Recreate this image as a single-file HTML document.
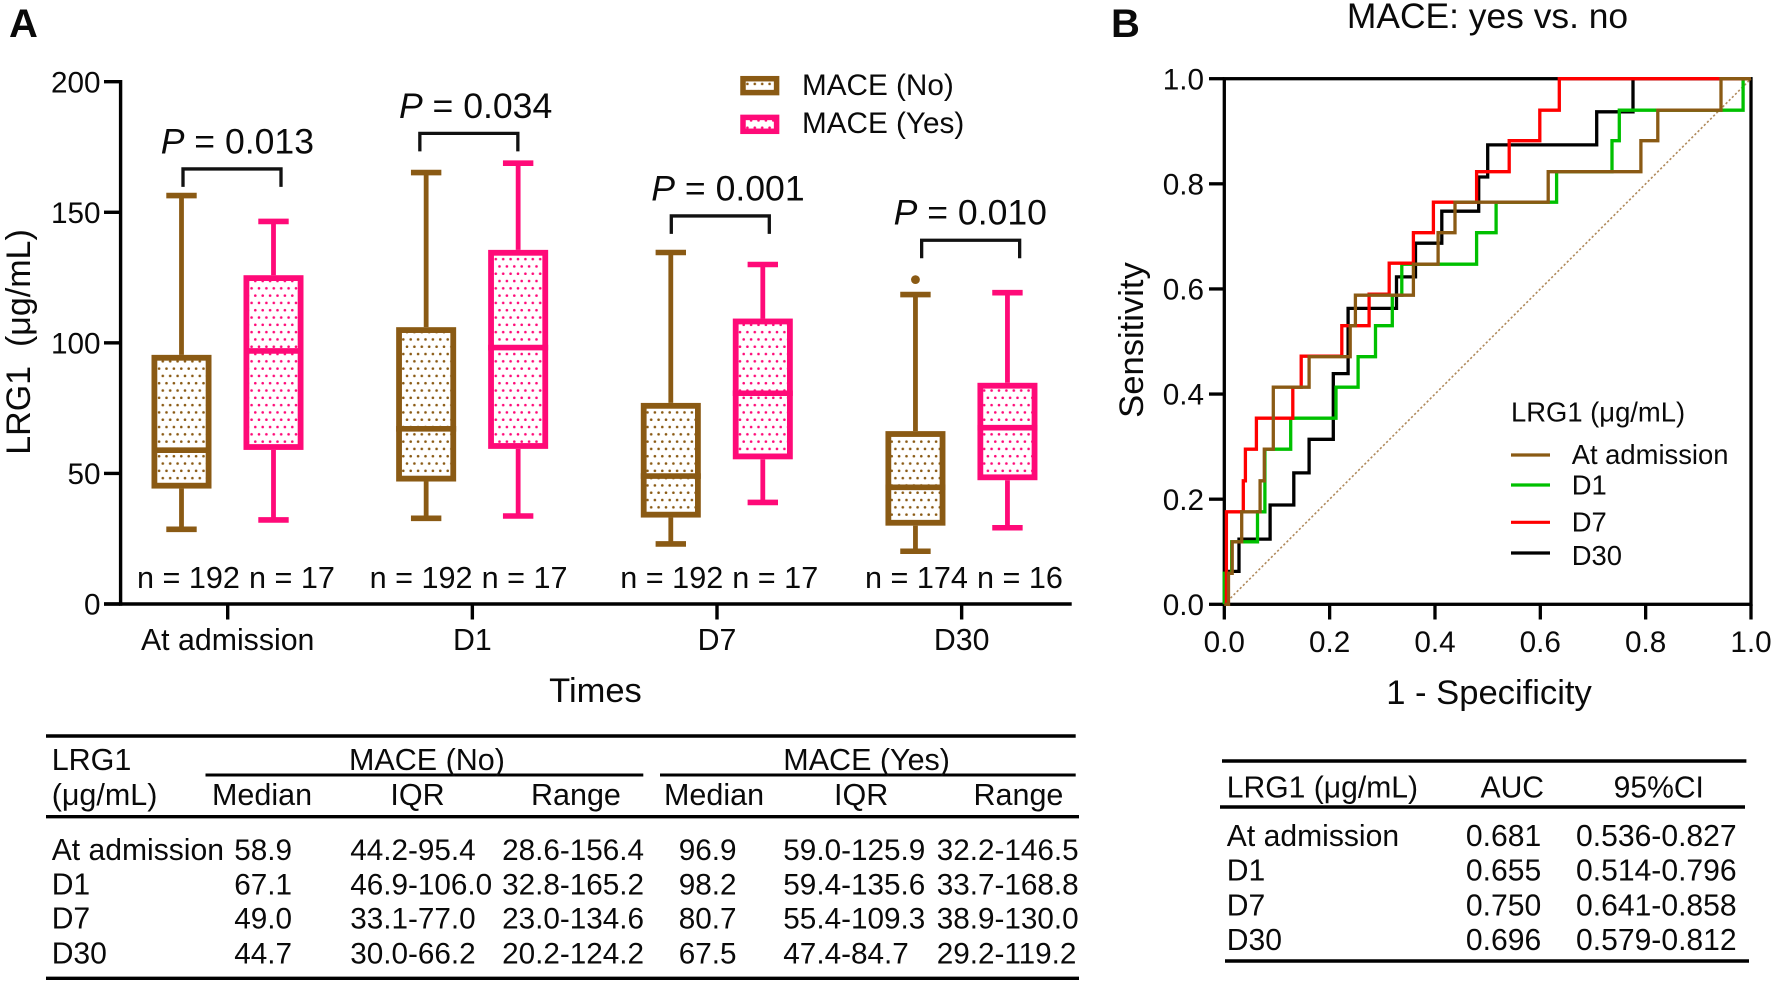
<!DOCTYPE html>
<html lang="en">
<head>
<meta charset="utf-8">
<title>LRG1 and MACE</title>
<style>
html,body{margin:0;padding:0;background:#fff;width:1775px;height:984px;overflow:hidden}
svg{display:block;filter:blur(0.35px)}
text{font-family:"Liberation Sans",Arial,sans-serif;fill:#0a0a0a}
.t{font-size:29.7px}
.h{font-size:30.5px}
.b{font-size:30.1px}
.tick{font-size:29.7px}
</style>
</head>
<body>
<svg id="fig" xmlns="http://www.w3.org/2000/svg" width="1775" height="984" viewBox="0 0 1775 984">
<defs>
<pattern id="dots-no" width="14.8" height="14.6" patternUnits="userSpaceOnUse"><circle cx="3.7" cy="3.6" r="1.3" fill="#8a5a14"/><circle cx="11.1" cy="3.6" r="1.3" fill="#8a5a14"/><circle cx="0" cy="10.9" r="1.3" fill="#8a5a14"/><circle cx="7.4" cy="10.9" r="1.3" fill="#8a5a14"/><circle cx="14.8" cy="10.9" r="1.3" fill="#8a5a14"/></pattern>
<pattern id="dots-yes" width="14.8" height="14.6" patternUnits="userSpaceOnUse"><circle cx="3.7" cy="3.6" r="1.3" fill="#ff0a78"/><circle cx="11.1" cy="3.6" r="1.3" fill="#ff0a78"/><circle cx="0" cy="10.9" r="1.3" fill="#ff0a78"/><circle cx="7.4" cy="10.9" r="1.3" fill="#ff0a78"/><circle cx="14.8" cy="10.9" r="1.3" fill="#ff0a78"/></pattern>
</defs>

<text x="9" y="37" style="font-size:40px;font-weight:bold">A</text>
<text x="1111" y="37" style="font-size:40px;font-weight:bold">B</text>

<g id="chart-a"></g>
<g id="chart-b"></g>

<text transform="translate(30,342) rotate(-90)" text-anchor="middle" style="font-size:34px" xml:space="preserve">LRG1  (μg/mL)</text>
<text x="595.5" y="702" text-anchor="middle" style="font-size:34.5px">Times</text>

<g>
<rect x="743" y="78.7" width="33.6" height="13.9" fill="url(#dots-no)" stroke="#8a5a14" stroke-width="5.5"/>
<text x="802" y="95" style="font-size:29.7px">MACE (No)</text>
<rect x="743" y="117.4" width="33.6" height="13.9" fill="url(#dots-yes)" stroke="#ff0a78" stroke-width="5.5"/>
<text x="802" y="133" style="font-size:29.7px">MACE (Yes)</text>
</g>

<text x="1487.5" y="28" text-anchor="middle" style="font-size:35.4px">MACE: yes vs. no</text>
<text transform="translate(1143,340) rotate(-90)" text-anchor="middle" style="font-size:34.6px">Sensitivity</text>
<text x="1489" y="704" text-anchor="middle" style="font-size:34.6px">1 - Specificity</text>

<g>
<text x="1511" y="421.7" style="font-size:27.4px">LRG1 (μg/mL)</text>
<line x1="1511" x2="1550" y1="455" y2="455" stroke="#8a5a14" stroke-width="3.2"/>
<text x="1571.7" y="464" style="font-size:27.4px">At admission</text>
<line x1="1511" x2="1550" y1="485" y2="485" stroke="#00c000" stroke-width="3.2"/>
<text x="1571.7" y="494.3" style="font-size:27.4px">D1</text>
<line x1="1511" x2="1550" y1="522.3" y2="522.3" stroke="#ff0000" stroke-width="3.2"/>
<text x="1571.7" y="531.3" style="font-size:27.4px">D7</text>
<line x1="1511" x2="1550" y1="553" y2="553" stroke="#000" stroke-width="3.2"/>
<text x="1571.7" y="565" style="font-size:27.4px">D30</text>
</g>

<g class="t">
<line x1="46" x2="1075.7" y1="736" y2="736" stroke="#000" stroke-width="3.4"/>
<line x1="205.5" x2="643.3" y1="775" y2="775" stroke="#000" stroke-width="3"/>
<line x1="660" x2="1075.7" y1="775" y2="775" stroke="#000" stroke-width="3"/>
<line x1="46" x2="1079" y1="816.7" y2="816.7" stroke="#000" stroke-width="3.4"/>
<line x1="46" x2="1079" y1="978.3" y2="978.3" stroke="#000" stroke-width="3.4"/>
<text class="h" x="51.7" y="770">LRG1</text>
<text class="h" x="51.7" y="805">(μg/mL)</text>
<text class="h" x="349" y="770">MACE (No)</text>
<text class="h" x="783.3" y="770">MACE (Yes)</text>
<text class="h" x="212" y="805">Median</text>
<text class="h" x="390.4" y="805">IQR</text>
<text class="h" x="531" y="805">Range</text>
<text class="h" x="664" y="805">Median</text>
<text class="h" x="834" y="805">IQR</text>
<text class="h" x="973.5" y="805">Range</text>

<text class="b" x="51.7" y="860">At admission</text>
<text x="234.2" y="860">58.9</text>
<text x="350.2" y="860">44.2-95.4</text>
<text x="502.1" y="860">28.6-156.4</text>
<text x="678.7" y="860">96.9</text>
<text x="783.3" y="860">59.0-125.9</text>
<text x="936.7" y="860">32.2-146.5</text>

<text class="b" x="51.7" y="894.3">D1</text>
<text x="234.2" y="894.3">67.1</text>
<text x="350.2" y="894.3">46.9-106.0</text>
<text x="502.1" y="894.3">32.8-165.2</text>
<text x="678.7" y="894.3">98.2</text>
<text x="783.3" y="894.3">59.4-135.6</text>
<text x="936.7" y="894.3">33.7-168.8</text>

<text class="b" x="51.7" y="928.3">D7</text>
<text x="234.2" y="928.3">49.0</text>
<text x="350.2" y="928.3">33.1-77.0</text>
<text x="502.1" y="928.3">23.0-134.6</text>
<text x="678.7" y="928.3">80.7</text>
<text x="783.3" y="928.3">55.4-109.3</text>
<text x="936.7" y="928.3">38.9-130.0</text>

<text class="b" x="51.7" y="963.3">D30</text>
<text x="234.2" y="963.3">44.7</text>
<text x="350.2" y="963.3">30.0-66.2</text>
<text x="502.1" y="963.3">20.2-124.2</text>
<text x="678.7" y="963.3">67.5</text>
<text x="783.3" y="963.3">47.4-84.7</text>
<text x="936.7" y="963.3">29.2-119.2</text>
</g>

<g class="b">
<line x1="1222" x2="1746.4" y1="761" y2="761" stroke="#000" stroke-width="3.4"/>
<line x1="1220" x2="1745" y1="807" y2="807" stroke="#000" stroke-width="3.4"/>
<line x1="1225" x2="1749" y1="961" y2="961" stroke="#000" stroke-width="3.4"/>
<text x="1226.8" y="797.3">LRG1 (μg/mL)</text>
<text x="1480.5" y="797.3">AUC</text>
<text x="1613.6" y="797.3">95%CI</text>
<text x="1226.8" y="846">At admission</text>
<text x="1465.9" y="846">0.681</text>
<text x="1576" y="846">0.536-0.827</text>
<text x="1226.8" y="880.7">D1</text>
<text x="1465.9" y="880.7">0.655</text>
<text x="1576" y="880.7">0.514-0.796</text>
<text x="1226.8" y="915.7">D7</text>
<text x="1465.9" y="915.7">0.750</text>
<text x="1576" y="915.7">0.641-0.858</text>
<text x="1226.8" y="950">D30</text>
<text x="1465.9" y="950">0.696</text>
<text x="1576" y="950">0.579-0.812</text>
</g>
</svg>

<script>
// ---- Panel A data ----
const categories = ['At admission', 'D1', 'D7', 'D30'];
const yTicksA = [0, 50, 100, 150, 200];
const noMin = [28.6, 32.8, 23.0, 20.2];
const noQ1 = [44.2, 46.9, 33.1, 30.0];
const noMedian = [58.9, 67.1, 49.0, 44.7];
const noQ3 = [95.4, 106.0, 77.0, 66.2];
const noMax = [156.4, 165.2, 134.6, 118.5];
const noOutlier = [null, null, null, 124.2];
const yesMin = [32.2, 33.7, 38.9, 29.2];
const yesQ1 = [59.0, 59.4, 55.4, 47.4];
const yesMedian = [96.9, 98.2, 80.7, 67.5];
const yesQ3 = [125.9, 135.6, 109.3, 84.7];
const yesMax = [146.5, 168.8, 130.0, 119.2];
const noCounts = ['n = 192', 'n = 192', 'n = 192', 'n = 174'];
const yesCounts = ['n = 17', 'n = 17', 'n = 17', 'n = 16'];
const pLabels = ['0.013', '0.034', '0.001', '0.010'];
const bracketValues = [166.6, 180.2, 148.6, 139.3];

// ---- Panel B data ----
const rocTicks = [0, 0.2, 0.4, 0.6, 0.8, 1.0];
const d30Fpr = [0.004, 0.028, 0.087, 0.132, 0.161, 0.207, 0.235, 0.327, 0.363, 0.413, 0.483, 0.5, 0.707, 0.776, 1];
const d30Tpr = [0.0625, 0.124, 0.189, 0.25, 0.314, 0.439, 0.563, 0.623, 0.687, 0.748, 0.813, 0.874, 0.937, 1, 1];
const d1Fpr = [0, 0.014, 0.063, 0.077, 0.126, 0.212, 0.254, 0.287, 0.319, 0.337, 0.479, 0.516, 0.631, 0.736, 0.75, 0.985, 1];
const d1Tpr = [0.059, 0.119, 0.176, 0.295, 0.354, 0.413, 0.471, 0.53, 0.588, 0.647, 0.707, 0.765, 0.823, 0.882, 0.94, 1, 1];
const d7Fpr = [0.004, 0.036, 0.04, 0.061, 0.13, 0.146, 0.223, 0.275, 0.313, 0.359, 0.397, 0.479, 0.541, 0.599, 0.636, 1];
const d7Tpr = [0.176, 0.235, 0.295, 0.354, 0.413, 0.472, 0.53, 0.59, 0.649, 0.707, 0.765, 0.823, 0.882, 0.94, 1, 1];
const admFpr = [0.008, 0.015, 0.033, 0.068, 0.076, 0.093, 0.161, 0.239, 0.249, 0.359, 0.406, 0.438, 0.615, 0.791, 0.823, 0.943, 1];
const admTpr = [0.059, 0.119, 0.176, 0.235, 0.295, 0.413, 0.471, 0.53, 0.588, 0.647, 0.707, 0.765, 0.823, 0.882, 0.94, 1, 1];

const BROWN = '#8a5a14', PINK = '#ff0a78', NS = 'http://www.w3.org/2000/svg';
const yA = v => 604 - v * 2.6115;
const xCat = i => 227.7 + i * 244.65;
const xB = v => 1224.3 + v * 526.7;
const yB = v => 604.3 - v * 525.6;
// annotation placement is hand-set in the source figure, so nudge per group
const nudgeCount = i => (i === 0 ? 0 : i === 1 ? -12 : -6);
const nudgeBracket = i => (i === 0 ? 0.3 : i === 1 ? -7.5 : i === 2 ? -0.7 : 5);
const nudgeP = i => (i === 0 ? 0 : i === 1 ? -6.4 : i === 2 ? 1.3 : -1);

function mk(parent, tag, props, txt) {
  const el = document.createElementNS(NS, tag);
  Object.keys(props).forEach(k => el.setAttribute(k, props[k]));
  if (txt !== undefined) el.textContent = txt;
  parent.appendChild(el);
  return el;
}

const a = document.getElementById('chart-a');
const b = document.getElementById('chart-b');

function drawBox(i, off, color, pat, lo, q1, med, q3, hi) {
  const c = xCat(i) + off, bw = 5.8, w = 60;
  const g = mk(a, 'g', {});
  
  
  let el = mk(g, 'line', {x1: c, x2: c, y1: yA(hi), y2: yA(q3), stroke: color, 'stroke-width': 4.8});
  
  
  el = mk(g, 'line', {x1: c, x2: c, y1: yA(q1), y2: yA(lo), stroke: color, 'stroke-width': 4.8});
  
  
  el = mk(g, 'line', {x1: c - 15.2, x2: c + 15.2, y1: yA(hi), y2: yA(hi), stroke: color, 'stroke-width': 5.6});
  
  
  el = mk(g, 'line', {x1: c - 15.2, x2: c + 15.2, y1: yA(lo), y2: yA(lo), stroke: color, 'stroke-width': 5.6});
  
  
  el = mk(g, 'rect', {x: c - w / 2 + bw / 2, y: yA(q3) + bw / 2, width: w - bw, height: yA(q1) - yA(q3) - bw, fill: 'url(#' + pat + ')', stroke: color, 'stroke-width': bw});
  
  
  el = mk(g, 'line', {x1: c - w / 2, x2: c + w / 2, y1: yA(med), y2: yA(med), stroke: color, 'stroke-width': 5.6});
  
  
}

// y axis A
let n = mk(a, 'line', {x1: 120.6, x2: 120.6, y1: yA(200) - 1.7, y2: yA(0) + 1.7, stroke: '#000', 'stroke-width': 3.4});


n = mk(a, 'line', {x1: 104, x2: 1071.7, y1: yA(0), y2: yA(0), stroke: '#000', 'stroke-width': 3.4});


yTicksA.forEach(v => {
  let t = mk(a, 'line', {x1: 104, x2: 120, y1: yA(v), y2: yA(v), stroke: '#000', 'stroke-width': 3.4});
  
  
  t = mk(a, 'text', {x: 100.5, y: yA(v) + 10.6, 'text-anchor': 'end', class: 'tick'}, String(v));
  
  
});
categories.forEach((cat, i) => {
  let t = mk(a, 'line', {x1: xCat(i), x2: xCat(i), y1: yA(0), y2: 619.5, stroke: '#000', 'stroke-width': 3.4});
  
  
  t = mk(a, 'text', {x: xCat(i), y: 650, 'text-anchor': 'middle', style: 'font-size:30.3px'}, cat);
  
  

  drawBox(i, -46.2, BROWN, 'dots-no', noMin[i], noQ1[i], noMedian[i], noQ3[i], noMax[i]);
  drawBox(i, 45.8, PINK, 'dots-yes', yesMin[i], yesQ1[i], yesMedian[i], yesQ3[i], yesMax[i]);

  if (noOutlier[i] !== null) {
    t = mk(a, 'circle', {cx: xCat(i) - 46.2, cy: yA(noOutlier[i]), r: 4.4, fill: BROWN});
    
    
  }
  t = mk(a, 'text', {x: xCat(i) - 90.7 + nudgeCount(i), y: 588, style: 'font-size:30.6px'}, noCounts[i]);
  
  
  t = mk(a, 'text', {x: xCat(i) + 21.3 + nudgeCount(i), y: 588, style: 'font-size:30.6px'}, yesCounts[i]);
  
  

  // significance bracket
  const bx1 = xCat(i) - 45 + nudgeBracket(i), bx2 = bx1 + 98, top = yA(bracketValues[i]);
  t = mk(a, 'polyline', {points: bx1 + ',' + (top + 18) + ' ' + bx1 + ',' + top + ' ' + bx2 + ',' + top + ' ' + bx2 + ',' + (top + 18), fill: 'none', stroke: '#111', 'stroke-width': 3.3});
  
  
  const p = mk(a, 'text', {x: xCat(i) - 67 + nudgeP(i), y: top - 15.5, style: 'font-size:35.6px'});
  
  
  const pi = mk(p, 'tspan', {'font-style': 'italic'}, 'P');
  
  
  p.appendChild(document.createTextNode(' = ' + pLabels[i]));
});

// Panel B frame
n = mk(b, 'rect', {x: xB(0), y: yB(1), width: xB(1) - xB(0), height: yB(0) - yB(1), fill: 'none', stroke: '#000', 'stroke-width': 3.3});


rocTicks.forEach(v => {
  let t = mk(b, 'line', {x1: 1209, x2: xB(0), y1: yB(v), y2: yB(v), stroke: '#000', 'stroke-width': 3.3});
  
  
  t = mk(b, 'text', {x: 1204, y: yB(v) + 10.6, 'text-anchor': 'end', class: 'tick'}, v.toFixed(1));
  
  
  t = mk(b, 'line', {x1: xB(v), x2: xB(v), y1: yB(0), y2: 619.5, stroke: '#000', 'stroke-width': 3.3});
  
  
  t = mk(b, 'text', {x: xB(v), y: 652, 'text-anchor': 'middle', class: 'tick'}, v.toFixed(1));
  
  
});
n = mk(b, 'line', {x1: xB(0), y1: yB(0), x2: xB(1), y2: yB(1), stroke: '#b08a5c', 'stroke-width': 1.6, 'stroke-dasharray': '2.2 2.2'});



function stepPath(fpr, tpr) {
  let d = 'M' + xB(0).toFixed(1) + ' ' + yB(0).toFixed(1);
  fpr.forEach((f, i) => {
    d += ' H' + xB(f).toFixed(1) + ' V' + yB(tpr[i]).toFixed(1);
  });
  return d;
}
n = mk(b, 'path', {d: stepPath(d30Fpr, d30Tpr), fill: 'none', stroke: '#000', 'stroke-width': 3.3});


n = mk(b, 'path', {d: stepPath(d1Fpr, d1Tpr), fill: 'none', stroke: '#00c000', 'stroke-width': 3.3});


n = mk(b, 'path', {d: stepPath(d7Fpr, d7Tpr), fill: 'none', stroke: '#ff0000', 'stroke-width': 3.3});


n = mk(b, 'path', {d: stepPath(admFpr, admTpr), fill: 'none', stroke: BROWN, 'stroke-width': 3.3});


</script>
</body>
</html>
